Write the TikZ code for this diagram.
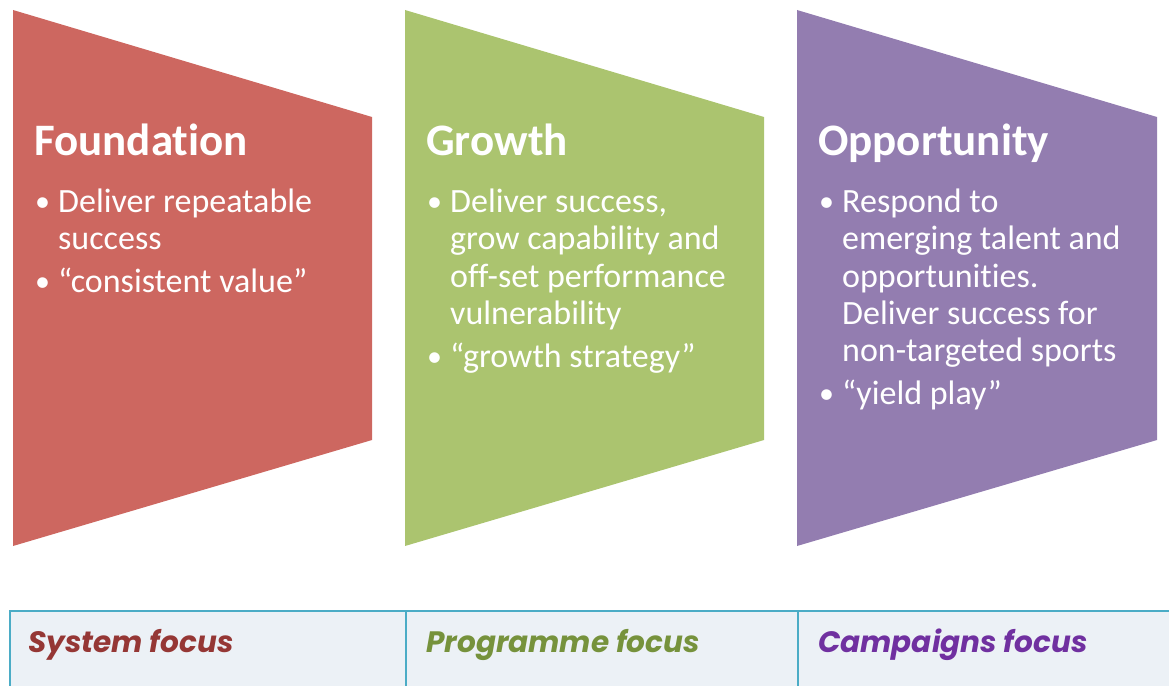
\documentclass[tikz,border=0pt]{standalone}
\usepackage{fontspec}
\setmainfont{Carlito}[Ligatures=NoCommon]
\newfontfamily\gothic{Poppins}
\definecolor{cred}{RGB}{205,103,96}
\definecolor{cgreen}{RGB}{171,196,111}
\definecolor{cpurple}{RGB}{147,125,176}
\definecolor{tred}{RGB}{149,55,53}
\definecolor{tgreen}{RGB}{118,146,60}
\definecolor{tpurple}{RGB}{112,48,160}
\definecolor{tborder}{RGB}{75,172,198}
\definecolor{tfill}{RGB}{236,241,246}
\tikzset{
  ttl/.style={anchor=base west, inner sep=0pt, text=white, font=\fontsize{45}{52}\selectfont\bfseries},
  txt/.style={anchor=base west, inner sep=0pt, text=white, font=\fontsize{34}{37}\selectfont},
  bul/.style={anchor=base west, inner sep=0pt, text=white, font=\fontsize{30}{37}\selectfont},
  lbl/.style={anchor=base west, inner sep=0pt, font=\gothic\fontsize{29.5}{34}\selectfont\bfseries\itshape},
}
\begin{document}
\begin{tikzpicture}[x=1pt,y=-1pt]
\useasboundingbox (0,0) rectangle (1169,685);
% shapes
\fill[cred] (13,10) -- (372,117) -- (372,440) -- (13,546) -- cycle;
\fill[cgreen] (405,10) -- (764,117) -- (764,440) -- (405,546) -- cycle;
\fill[cpurple] (797,10) -- (1157,117) -- (1157,440) -- (797,546) -- cycle;
% titles
\node[ttl] (t1) at (34,155) {Foundation};
\node[ttl] (t2) at (426,155) {Growth};
\node[ttl] (t3) at (818,155) {Opportunity};
% red
\node[bul] (r1b) at (35,211) {•};
\node[txt] (r1) at (58,212) {Deliver repeatable};
\node[txt] (r2) at (58,249) {success};
\node[bul] (r3b) at (35,291) {•};
\node[txt] (r3) at (58,292) {“consistent value”};
% green
\node[bul] (g1b) at (427,211) {•};
\node[txt] (g1) at (450,212) {Deliver success,};
\node[txt] (g2) at (450,249) {grow capability and};
\node[txt] (g3) at (450,287) {off-set performance};
\node[txt] (g4) at (450,324) {vulnerability};
\node[bul] (g5b) at (427,366) {•};
\node[txt] (g5) at (450,367) {“growth strategy”};
% purple
\node[bul] (p1b) at (819,211) {•};
\node[txt] (p1) at (842,212) {Respond to};
\node[txt] (p2) at (842,249) {emerging talent and};
\node[txt] (p3) at (842,287) {opportunities.};
\node[txt] (p4) at (842,324) {Deliver success for};
\node[txt] (p5) at (842,361) {non-targeted sports};
\node[bul] (p6b) at (819,403) {•};
\node[txt] (p6) at (842,404) {“yield play”};
% table
\fill[tfill] (10,611) rectangle (1180,695);
\draw[tborder, line width=2.5pt] (10,695) -- (10,611) -- (1180,611);
\draw[tborder, line width=2.5pt] (406,611) -- (406,695);
\draw[tborder, line width=2.5pt] (798,611) -- (798,695);
\node[lbl, text=tred] (l1) at (28,652) {System focus};
\node[lbl, text=tgreen] (l2) at (426,652) {Programme focus};
\node[lbl, text=tpurple] (l3) at (818,652) {Campaigns focus};
\end{tikzpicture}
\end{document}
